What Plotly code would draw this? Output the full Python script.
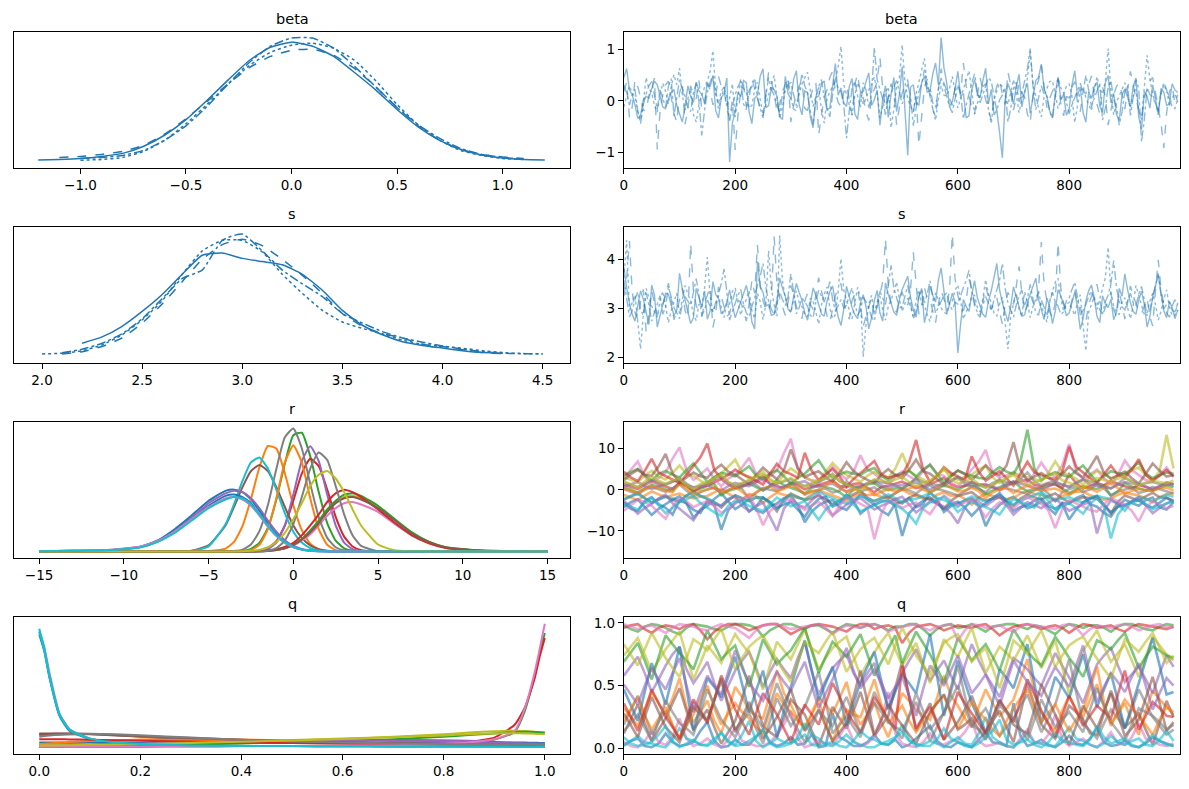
import plotly.graph_objects as go

# tab10 colour cycle used by the original figure
TAB10 = ['#1f77b4', '#ff7f0e', '#2ca02c', '#d62728', '#9467bd',
         '#8c564b', '#e377c2', '#7f7f7f', '#bcbd22', '#17becf']
DASHES = ['solid', 'dash', 'dot', 'dashdot']
FONT = 'DejaVu Sans'

# ---------------- beta ----------------
beta_grid = [-1.2, -1.1, -1.0, -0.9, -0.8, -0.7, -0.6, -0.5, -0.4, -0.3, -0.2, -0.1, 0.0,
             0.1, 0.2, 0.3, 0.4, 0.5, 0.6, 0.7, 0.8, 0.9, 1.0, 1.1, 1.2]
beta_kde = [
    [0.005, 0.01, 0.02, 0.04, 0.07, 0.14, 0.25, 0.40, 0.59, 0.79, 0.98, 1.11, 1.16,
     1.12, 1.02, 0.86, 0.69, 0.50, 0.33, 0.20, 0.11, 0.055, 0.025, 0.01, 0.005],
    [None, 0.03, 0.04, 0.06, 0.09, 0.15, 0.26, 0.41, 0.58, 0.75, 0.91, 1.02, 1.08,
     1.09, 1.03, 0.90, 0.72, 0.52, 0.34, 0.20, 0.11, 0.06, 0.035, 0.02, None],
    [None, None, 0.003, 0.01, 0.03, 0.09, 0.20, 0.36, 0.55, 0.75, 0.93, 1.06, 1.13,
     1.15, 1.10, 0.98, 0.78, 0.55, 0.35, 0.20, 0.10, 0.05, 0.02, 0.01, None],
    [None, None, 0.02, 0.03, 0.05, 0.10, 0.20, 0.34, 0.53, 0.75, 0.96, 1.12, 1.20,
     1.20, 1.10, 0.92, 0.72, 0.52, 0.35, 0.22, 0.12, 0.06, 0.03, 0.015, None],
]
# draws sampled every 5 iterations
beta_chains = [
    [0.45, 0.62, 0.21, 0.12, -0.08, -0.34, -0.28, 0.02, 0.09, 0.05, 0.24, 0.38, 0.31, 0.07, -0.12, -0.15, 0.04, 0.16, 0.22, -0.09,
     -0.26, -0.41, -0.11, 0.29, 0.08, -0.03, 0.36, 0.19, 0.13, -0.05, 0.35, 0.27, 0.48, -0.19, -0.33, 0.06, 0.14, 0.44, -1.18, -0.42,
     -0.22, 0.17, 0.08, 0.39, 0.35, -0.21, -0.44, 0.05, 0.11, 0.48, 0.62, -0.13, -0.09, 0.26, 0.21, 0.09, -0.31, -0.36, 0.47, 0.14,
     0.03, 0.42, 0.58, -0.08, -0.27, 0.19, 0.16, -0.31, -0.52, 0.07, 0.09, 0.33, 0.38, -0.17, -0.14, 0.24, 0.72, 0.11, 0.25, -0.04,
     -0.11, 0.28, 0.43, -0.25, -0.36, 0.15, 0.18, 0.37, 0.54, -0.09, 0.02, 0.21, -0.47, 0.04, 0.29, -0.32, 0.13, 0.45, -0.21, 0.12,
     0.66, -0.18, -1.05, 0.26, 0.31, -0.04, -0.08, 0.35, 0.48, 0.17, 0.19, 0.52, 0.73, 0.31, 1.22, 0.64, 0.35, -0.11, -0.02, 0.23,
     0.57, 0.09, 0.14, -0.33, -0.29, 0.21, 0.41, 0.13, 0.06, 0.39, 0.63, -0.06, 0.22, -0.27, -0.18, -0.62, -1.1, 0.02, 0.33, 0.18,
     -0.07, 0.28, 0.51, -0.12, 0.18, 0.34, -0.24, 0.06, 0.39, 0.45, 0.71, 0.21, 0.09, -0.19, -0.33, 0.14, 0.46, 0.03, 0.12, -0.28,
     -0.16, 0.31, 0.58, 0.09, 0.27, -0.23, -0.41, 0.17, 0.05, 0.26, 0.36, -0.11, -0.22, 0.35, 0.49, -0.04, 0.14, -0.26, -0.38, 0.12,
     0.23, 0.07, -0.12, 0.29, 0.44, -0.31, -0.55, 0.18, 0.09, -0.14, 0.31, 0.05, -0.27, 0.24, 0.17, -0.09, -0.06, 0.33, 0.21, 0.16],
    [0.18, 0.36, -0.32, -0.12, 0.41, 0.27, 0.07, -0.18, -0.19, 0.11, 0.26, 0.44, -0.94, -0.21, 0.12, 0.31, 0.38, 0.05, -0.24, -0.41,
     0.15, 0.34, -0.45, -0.16, 0.29, 0.12, 0.04, 0.39, -0.17, -0.06, 0.33, 0.21, -0.08, 0.09, 0.47, 0.28, 0.21, -0.13, -0.36, 0.02,
     -0.95, -0.28, 0.19, 0.31, -0.12, 0.06, 0.42, 0.24, 0.08, -0.17, -0.29, 0.13, 0.55, 0.37, 0.16, -0.22, -0.05, 0.18, 0.31, 0.45,
     -0.41, -0.09, 0.12, 0.29, 0.37, -0.14, -0.19, 0.08, 0.24, 0.36, -0.66, -0.23, 0.09, 0.21, 0.45, 0.57, 0.18, -0.03, -0.11, 0.16,
     0.29, 0.04, -0.27, 0.33, 0.51, 0.14, 0.06, -0.21, -0.38, 0.11, 0.22, 0.37, 0.84, 0.26, -0.14, 0.05, 0.33, 0.18, -0.46, -0.12,
     0.15, 0.32, 0.41, -0.07, -0.23, 0.11, -0.85, -0.31, 0.27, 0.42, 0.08, -0.16, -0.31, 0.22, 0.62, 0.35, 0.19, 0.07, -0.09, 0.26,
     0.36, 0.14, 0.73, 0.28, 0.11, -0.14, -0.25, 0.09, 0.44, 0.22, 0.03, -0.18, -0.37, 0.06, 0.28, 0.41, 0.12, -0.07, 0.55, 0.31,
     -0.18, 0.07, 0.33, 0.16, 0.07, -0.26, -0.42, 0.13, 0.25, 0.39, 0.68, 0.24, -0.13, 0.05, 0.19, 0.32, 0.41, -0.06, -0.29, 0.08,
     0.06, 0.27, 0.37, -0.04, -0.21, 0.18, 0.14, 0.29, 0.48, 0.11, -0.08, -0.25, 0.26, 0.09, -0.47, -0.16, 0.11, 0.28, 0.34, 0.13,
     -0.16, 0.22, 0.57, 0.31, 0.02, -0.19, -0.33, 0.07, 0.21, 0.38, 0.45, 0.14, -0.12, -0.43, -0.91, -0.24, 0.17, 0.29, -0.05, 0.12],
    [-0.12, 0.06, 0.29, 0.15, 0.08, -0.21, -0.37, -0.04, 0.45, 0.23, 0.16, -0.09, -0.22, 0.12, 0.34, 0.18, -0.06, 0.28, 0.51, 0.31,
     0.63, 0.12, -0.18, 0.04, 0.23, -0.27, -0.41, -0.05, 0.11, 0.26, 0.38, 0.57, 0.97, 0.21, -0.15, 0.09, 0.27, -0.12, 0.05, 0.33,
     -0.31, 0.07, 0.42, 0.24, 0.17, -0.14, -0.09, 0.22, 0.36, 0.02, -0.26, -0.08, 0.14, 0.31, 0.49, 0.08, -0.34, -0.11, 0.21, 0.39,
     0.07, -0.16, -0.19, 0.14, 0.32, 0.44, 0.55, 0.19, -0.11, 0.09, 0.26, -0.18, -0.43, 0.03, 0.18, 0.27, 0.39, 0.66, 1.05, 0.32,
     0.13, -0.06, -0.28, 0.12, 0.35, 0.19, -0.07, 0.04, 0.22, 0.31, 0.46, 0.17, -0.33, -0.12, 0.16, 0.27, -0.52, -0.17, 0.28, 0.45,
     1.08, 0.36, 0.04, -0.11, -0.21, 0.13, 0.37, 0.58, 0.82, 0.29, 0.15, -0.16, -0.38, 0.03, 0.29, 0.11, 0.09, 0.24, 0.47, 0.18,
     -0.14, 0.05, 0.23, 0.38, 0.58, 0.21, -0.26, -0.05, 0.11, 0.25, 0.36, -0.17, -0.44, 0.02, 0.19, 0.34, 0.27, 0.09, -0.07, 0.16,
     0.41, 0.12, -0.23, 0.06, 0.15, 0.44, 0.96, 0.31, 0.05, -0.14, -0.31, 0.08, 0.24, 0.37, 0.39, 0.12, -0.15, 0.03, 0.12, 0.28,
     0.33, 0.08, -0.42, -0.09, 0.18, 0.26, 0.06, -0.07, -0.19, 0.21, 0.47, 0.24, 0.13, 0.38, 1.01, 0.16, -0.27, -0.03, 0.08, 0.22,
     0.35, 0.12, -0.11, 0.09, 0.22, -0.18, -0.36, 0.27, 0.88, 0.41, 0.14, -0.05, -0.23, 0.13, 0.31, 0.19, 0.07, -0.12, -0.15, 0.04],
    [0.31, 0.15, -0.08, 0.11, 0.22, -0.19, -0.44, -0.07, 0.13, 0.29, 0.37, 0.08, -0.16, 0.21, 0.05, -0.12, 0.28, 0.43, -0.29, 0.03,
     0.41, 0.24, 0.09, -0.13, -0.21, 0.16, 0.34, -0.02, -0.67, -0.18, 0.17, 0.36, 0.49, 0.12, -0.05, 0.19, 0.26, 0.08, -0.39, -0.11,
     0.12, 0.27, 0.38, -0.06, -0.17, 0.21, 0.27, 0.44, 0.04, -0.14, -0.33, 0.09, 0.45, 0.22, 0.11, -0.08, -0.24, 0.13, 0.19, 0.31,
     0.36, 0.12, -0.09, 0.18, 0.53, 0.29, 0.15, -0.21, -0.46, 0.06, 0.28, 0.41, 0.07, -0.15, -0.31, 0.11, 0.42, 0.24, 0.18, -0.07,
     -0.72, -0.19, 0.24, 0.38, 0.09, -0.12, 0.35, 0.21, -0.13, 0.16, 1.03, 0.41, 0.21, 0.04, -0.27, 0.08, 0.14, 0.27, 0.39, 0.17,
     -0.06, 0.14, 0.32, 0.09, -0.48, -0.15, 0.17, 0.33, 0.6, 0.24, 0.26, -0.04, -0.12, 0.22, 0.44, 0.29, 0.08, -0.11, -0.23, 0.06,
     0.31, 0.12, -0.35, -0.08, 0.16, 0.34, 0.52, 0.18, -0.04, 0.13, 0.27, 0.45, 0.38, 0.07, -0.19, 0.02, 0.11, 0.26, -0.41, -0.15,
     0.24, 0.36, -0.02, 0.15, 0.37, 0.62, 1.01, 0.28, -0.17, 0.04, 0.29, 0.12, 0.09, -0.22, -0.33, 0.06, 0.43, 0.25, 0.15, -0.03,
     -0.25, -0.08, 0.06, 0.22, 0.34, 0.17, 0.49, 0.21, -0.12, 0.05, 0.21, 0.33, -0.37, -0.14, 0.27, 0.39, 0.03, -0.11, -0.47, -0.21,
     0.18, 0.29, -0.28, 0.04, 0.41, 0.23, -0.79, -0.36, 0.26, 0.12, 0.08, -0.06, -0.18, 0.15, 0.35, 0.22, -0.09, 0.05, 0.14, -0.02],
]

# ---------------- s ----------------
s_grid = [2.0, 2.1, 2.2, 2.3, 2.4, 2.5, 2.6, 2.7, 2.8, 2.9, 3.0, 3.1, 3.2,
          3.3, 3.4, 3.5, 3.6, 3.7, 3.8, 3.9, 4.0, 4.1, 4.2, 4.3, 4.4, 4.5]
s_kde = [
    [None, None, 0.10, 0.16, 0.26, 0.40, 0.56, 0.75, 0.93, 0.95, 0.90, 0.87, 0.84,
     0.75, 0.60, 0.41, 0.27, 0.18, 0.115, 0.08, 0.055, 0.03, 0.012, 0.006, None, None],
    [None, 0.0, 0.02, 0.07, 0.15, 0.29, 0.47, 0.68, 0.89, 1.03, 1.08, 1.02, 0.89,
     0.74, 0.57, 0.38, 0.26, 0.19, 0.15, 0.09, 0.07, 0.04, 0.012, 0.003, None, None],
    [0.0, 0.006, 0.03, 0.085, 0.18, 0.32, 0.50, 0.75, 0.97, 1.07, 1.07, 0.96, 0.75,
     0.57, 0.41, 0.30, 0.24, 0.19, 0.13, 0.09, 0.07, 0.053, 0.03, 0.012, 0.003, 0.0],
    [None, 0.01, 0.044, 0.10, 0.19, 0.33, 0.52, 0.71, 0.79, 1.07, 1.13, 0.97, 0.79,
     0.66, 0.54, 0.38, 0.29, 0.21, 0.15, 0.11, 0.075, 0.044, 0.022, 0.006, 0.002, 0.0],
]
s_chains = [
    [3.85, 3.42, 3.12, 2.88, 2.74, 3.05, 3.36, 3.19, 2.91, 2.67, 3.48, 3.27, 2.62, 2.85, 3.05, 3.31, 3.29, 3.08, 2.85, 2.96,
     3.72, 3.41, 3.18, 2.93, 2.69, 2.81, 3.41, 3.22, 3.02, 3.36, 2.78, 2.95, 3.55, 3.28, 3.21, 2.89, 2.95, 3.14, 3.38, 3.07,
     2.81, 2.97, 3.14, 3.33, 3.47, 3.21, 2.72, 2.58, 3.96, 3.44, 3.33, 3.05, 3.08, 2.86, 2.88, 3.17, 3.62, 3.41, 3.25, 2.99,
     2.93, 3.24, 3.51, 3.32, 3.17, 2.91, 2.76, 3.08, 3.42, 3.27, 3.06, 2.89, 2.84, 3.15, 3.34, 3.46, 3.11, 2.83, 2.65, 2.98,
     3.45, 3.21, 3.02, 2.87, 2.79, 3.12, 3.28, 3.04, 2.58, 2.81, 3.16, 3.37, 2.91, 2.74, 3.52, 3.29, 3.09, 2.93, 2.86, 3.18,
     3.39, 3.54, 3.66, 3.23, 2.97, 2.82, 3.24, 3.41, 2.71, 2.96, 3.46, 3.27, 3.13, 3.58, 3.83, 3.36, 2.89, 3.07, 3.31, 3.12,
     2.09, 2.68, 3.18, 3.04, 2.94, 3.27, 3.57, 3.22, 3.07, 2.88, 2.82, 3.15, 3.36, 3.61, 3.92, 3.38, 3.11, 2.92, 2.73, 3.05,
     3.44, 3.23, 3.05, 2.84, 2.87, 3.12, 3.29, 3.47, 3.62, 3.18, 2.96, 2.77, 3.21, 3.03, 2.69, 2.94, 3.38, 3.26, 3.08, 2.85,
     2.91, 3.14, 3.33, 3.02, 2.57, 2.79, 3.15, 3.36, 3.48, 3.22, 2.84, 2.71, 3.26, 3.09, 3.02, 3.19, 2.77, 2.92, 3.41, 3.25,
     3.71, 3.38, 3.12, 2.94, 2.88, 3.17, 3.35, 3.08, 2.62, 2.83, 3.24, 3.46, 3.68, 3.32, 2.95, 2.81, 3.14, 3.02, 2.79, 2.97],
    [3.25, 3.61, 4.38, 3.34, 2.92, 2.78, 3.14, 3.39, 2.51, 2.87, 3.37, 3.12, 2.86, 2.97, 3.08, 3.26, 3.52, 3.18, 2.77, 2.93,
     3.19, 3.41, 2.95, 2.81, 4.33, 3.37, 3.06, 2.91, 2.83, 3.12, 3.27, 3.44, 2.61, 2.89, 3.44, 3.23, 3.01, 2.84, 2.89, 3.16,
     3.35, 3.18, 3.12, 2.96, 2.74, 3.09, 3.58, 3.31, 4.3, 3.46, 3.16, 2.98, 2.94, 3.22, 4.47, 3.52, 3.21, 3.04, 2.86, 3.13,
     3.47, 3.29, 3.04, 2.88, 2.79, 3.15, 3.31, 3.08, 2.98, 3.27, 3.63, 3.36, 3.09, 2.85, 2.72, 3.02, 3.26, 3.43, 3.51, 3.14,
     2.92, 2.78, 3.17, 3.29, 3.39, 3.06, 2.63, 2.84, 3.05, 3.21, 2.85, 3.03, 3.28, 3.54, 4.42, 3.47, 3.11, 2.96, 2.93, 3.18,
     3.34, 3.12, 3.07, 3.39, 4.15, 3.43, 2.88, 3.05, 3.42, 3.21, 3.19, 2.94, 2.71, 3.08, 3.36, 3.19, 3.04, 3.38, 4.52, 3.61,
     3.27, 3.06, 2.95, 3.17, 3.61, 3.38, 3.13, 2.89, 2.82, 3.16, 3.45, 3.24, 2.98, 3.11, 3.22, 2.94, 2.67, 3.08, 3.33, 3.19,
     3.08, 3.45, 3.86, 3.31, 2.91, 3.05, 3.29, 3.12, 3.03, 3.39, 4.36, 3.48, 3.16, 2.93, 2.81, 3.14, 4.35, 3.42, 3.11, 2.96,
     2.94, 3.17, 3.38, 3.12, 3.02, 2.79, 2.73, 3.08, 3.25, 3.41, 3.49, 3.16, 2.86, 3.02, 3.14, 3.33, 2.97, 2.84, 3.32, 3.09,
     2.78, 3.12, 3.46, 3.27, 3.09, 2.93, 2.89, 3.04, 3.21, 2.83, 2.64, 3.36, 3.99, 3.41, 3.07, 2.91, 2.82, 3.05, 3.18, 2.94],
    [3.62, 4.4, 2.96, 3.14, 3.28, 2.73, 2.17, 2.88, 3.41, 3.22, 3.05, 2.93, 2.82, 3.17, 3.35, 3.04, 2.71, 2.95, 3.12, 3.31,
     2.89, 3.16, 3.47, 3.29, 3.16, 2.87, 2.75, 3.09, 3.03, 3.42, 4.05, 3.24, 2.93, 3.08, 3.26, 3.02, 2.81, 3.11, 3.09, 3.35,
     3.42, 3.13, 2.86, 3.05, 3.18, 3.36, 2.95, 2.79, 3.31, 3.14, 2.77, 3.06, 4.18, 3.41, 3.07, 2.84, 4.49, 3.56, 3.22, 3.01,
     2.91, 3.18, 3.36, 3.12, 3.04, 2.88, 2.83, 3.21, 3.15, 2.92, 2.68, 3.07, 3.29, 3.44, 3.01, 2.79, 2.87, 3.35, 4.02, 3.38,
     3.14, 2.96, 2.79, 3.11, 3.43, 3.22, 2.01, 2.66, 3.08, 3.27, 2.92, 3.13, 3.25, 2.98, 2.76, 3.04, 3.17, 3.32, 3.54, 3.19,
     2.94, 3.11, 3.21, 3.02, 2.85, 3.16, 3.38, 3.09, 3.06, 2.87, 2.73, 3.04, 3.32, 3.18, 3.01, 2.92, 2.89, 3.14, 3.15, 3.37,
     3.48, 3.16, 2.78, 2.93, 3.04, 3.26, 3.27, 3.02, 2.93, 3.21, 3.59, 3.28, 3.12, 2.91, 2.84, 3.09, 3.23, 2.71, 2.17, 2.86,
     3.11, 3.32, 2.97, 2.83, 3.34, 3.12, 2.81, 3.04, 3.19, 3.36, 3.05, 2.88, 2.72, 3.15, 3.37, 3.54, 3.62, 3.21, 2.95, 3.08,
     3.13, 2.99, 2.86, 3.12, 3.28, 2.64, 2.13, 2.92, 3.09, 3.24, 2.98, 3.17, 3.41, 3.63, 4.25, 3.32, 3.04, 2.91, 2.88, 3.14,
     3.22, 3.01, 2.79, 3.06, 3.47, 3.26, 3.08, 2.87, 2.92, 3.15, 3.31, 3.08, 2.76, 2.94, 3.19, 3.38, 3.03, 2.85, 2.86, 3.12],
    [3.58, 3.21, 2.83, 2.95, 3.19, 3.34, 2.97, 2.86, 3.32, 3.07, 2.74, 2.92, 3.11, 3.26, 2.88, 3.03, 3.45, 3.22, 3.02, 2.91,
     2.79, 3.08, 3.24, 3.15, 3.06, 3.33, 3.61, 3.28, 2.85, 2.97, 3.17, 3.04, 2.93, 3.12, 3.29, 3.51, 3.81, 3.34, 2.76, 2.94,
     3.12, 3.27, 3.39, 3.08, 2.91, 2.83, 3.04, 3.21, 3.48, 3.66, 3.92, 3.44, 3.15, 2.98, 2.87, 3.09, 3.33, 3.18, 3.06, 3.24,
     3.71, 3.34, 2.89, 3.02, 3.21, 3.13, 3.05, 2.86, 2.81, 3.14, 3.37, 3.25, 3.13, 3.32, 3.55, 3.19, 2.94, 3.06, 3.18, 3.01,
     3.06, 3.27, 3.42, 3.11, 2.86, 2.97, 3.23, 3.14, 3.01, 2.82, 2.74, 3.09, 3.35, 3.21, 3.08, 3.46, 3.88, 3.42, 3.19, 3.02,
     3.03, 3.25, 3.47, 3.13, 2.78, 2.96, 3.25, 3.38, 3.11, 3.29, 3.57, 3.22, 2.9, 3.03, 3.15, 3.26, 3.32, 3.08, 2.97, 3.13,
     3.09, 3.28, 3.43, 3.57, 3.78, 3.35, 3.06, 2.92, 2.88, 3.07, 3.24, 3.11, 2.95, 3.18, 3.36, 3.58, 3.92, 3.41, 3.11, 2.96,
     2.82, 3.07, 3.26, 3.38, 3.07, 3.21, 3.49, 3.19, 2.91, 2.86, 3.17, 3.02, 2.84, 3.13, 3.33, 3.14, 3.05, 2.88, 2.93, 3.16,
     3.21, 3.39, 3.54, 3.23, 2.87, 2.96, 3.08, 3.24, 3.36, 3.17, 3.12, 2.97, 2.89, 3.14, 3.27, 3.51, 3.98, 3.42, 3.14, 3.03,
     2.97, 3.16, 3.31, 3.12, 3.06, 3.29, 3.45, 3.18, 2.85, 2.97, 3.21, 3.44, 3.72, 3.26, 2.99, 3.08, 3.13, 2.96, 2.93, 3.1],
]

# ---------------- r (20 components) ----------------
r_grid = [-15, -13, -11, -9, -8, -7, -6, -5, -4, -3.5, -3, -2.5, -2, -1.5, -1, -0.5, 0,
          0.5, 1, 1.5, 2, 2.5, 3, 3.5, 4, 5, 6, 7, 8, 9, 11, 13, 15]
r_kde = [
    [0.002, 0.005, 0.01, 0.04, 0.09, 0.18, 0.29, 0.41, 0.49, 0.5, 0.48, 0.42, 0.33, 0.23, 0.14,
     0.08, 0.04, 0.017, 0.007, 0.003, 0.001] + [0] * 12,
    [0] * 5 + [0.001, 0.002, 0.004, 0.023, 0.077, 0.205, 0.424, 0.681, 0.853, 0.832, 0.632,
               0.374, 0.172, 0.062, 0.017, 0.004, 0.001] + [0] * 11,
    [0] * 10 + [0.004, 0.02, 0.07, 0.19, 0.42, 0.71, 0.94, 0.96, 0.77, 0.48, 0.23, 0.087,
                0.025, 0.006, 0.001] + [0] * 8,
    [0] * 12 + [0.006, 0.026, 0.083, 0.21, 0.41, 0.63, 0.75, 0.69, 0.5, 0.28, 0.12, 0.04,
                0.011, 0.001] + [0] * 7,
    [0] * 12 + [0.003, 0.018, 0.072, 0.21, 0.46, 0.73, 0.85, 0.73, 0.46, 0.21, 0.072, 0.018,
                0.003] + [0] * 8,
    [0] * 5 + [0.001, 0.006, 0.049, 0.21, 0.36, 0.52, 0.65, 0.70, 0.65, 0.52, 0.36, 0.21,
               0.11, 0.049, 0.019, 0.006, 0.002] + [0] * 11,
    [0] * 11 + [0.001, 0.002, 0.004, 0.011, 0.024, 0.048, 0.088, 0.14, 0.21, 0.29, 0.35, 0.39,
                0.4, 0.38, 0.32, 0.22, 0.13, 0.068, 0.03, 0.006, 0.002, 0.001],
    [0] * 9 + [0.003, 0.015, 0.056, 0.164, 0.375, 0.667, 0.923, 0.995, 0.835, 0.546, 0.278,
               0.11, 0.034, 0.008, 0.002] + [0] * 9,
    [0] * 11 + [0.001, 0.002, 0.005, 0.012, 0.027, 0.054, 0.1, 0.16, 0.24, 0.32, 0.4, 0.44,
                0.45, 0.43, 0.36, 0.25, 0.15, 0.077, 0.033, 0.007, 0.003, 0.001],
    [0] * 6 + [0.004, 0.041, 0.22, 0.38, 0.57, 0.72, 0.76, 0.67, 0.5, 0.31, 0.16, 0.072,
               0.027, 0.008, 0.002] + [0] * 12,
    [0.002, 0.005, 0.009, 0.037, 0.083, 0.16, 0.27, 0.37, 0.45, 0.46, 0.44, 0.39, 0.3, 0.21,
     0.13, 0.071, 0.035, 0.016, 0.006, 0.002, 0.001] + [0] * 12,
    [0] * 10 + [0.002, 0.011, 0.054, 0.18, 0.43, 0.72, 0.86, 0.72, 0.43, 0.18, 0.054, 0.011,
                0.002] + [0] * 10,
    [0] * 11 + [0.001, 0.002, 0.005, 0.013, 0.028, 0.056, 0.1, 0.17, 0.25, 0.34, 0.41, 0.46,
                0.47, 0.45, 0.37, 0.26, 0.155, 0.08, 0.035, 0.007, 0.003, 0.001],
    [0] * 11 + [0.001, 0.003, 0.007, 0.017, 0.037, 0.07, 0.13, 0.21, 0.3, 0.4, 0.47, 0.5,
                0.48, 0.44, 0.34, 0.23, 0.13, 0.066, 0.028, 0.006, 0.002, 0.001],
    [0.002, 0.005, 0.01, 0.035, 0.08, 0.16, 0.27, 0.39, 0.47, 0.49, 0.48, 0.43, 0.35, 0.25,
     0.16, 0.09, 0.045, 0.02, 0.008, 0.003, 0.001] + [0] * 12,
    [0] * 11 + [0.001, 0.002, 0.004, 0.012, 0.026, 0.053, 0.097, 0.156, 0.23, 0.32, 0.39, 0.43,
                0.44, 0.42, 0.35, 0.25, 0.145, 0.075, 0.033, 0.007, 0.003, 0.001],
    [0.003, 0.006, 0.011, 0.04, 0.085, 0.16, 0.26, 0.36, 0.43, 0.44, 0.42, 0.37, 0.29, 0.2,
     0.125, 0.07, 0.034, 0.015, 0.006, 0.002, 0.001] + [0] * 12,
    [0] * 13 + [0.006, 0.027, 0.088, 0.22, 0.44, 0.67, 0.8, 0.74, 0.53, 0.3, 0.13, 0.045,
                0.002] + [0] * 7,
    [0] * 10 + [0.001, 0.005, 0.013, 0.034, 0.076, 0.15, 0.26, 0.39, 0.53, 0.62, 0.65, 0.59,
                0.48, 0.34, 0.21, 0.056, 0.009, 0.002] + [0] * 5,
    [0.002, 0.004, 0.009, 0.034, 0.077, 0.15, 0.25, 0.35, 0.42, 0.44, 0.43, 0.38, 0.3, 0.21,
     0.13, 0.075, 0.037, 0.016, 0.006, 0.002, 0.001] + [0] * 12,
]
# r / q traces: draws sampled every 12.5 iterations
r_chains = [
    [-3.1, -4.6, -5.2, -2.7, -1.8, -3.5, -4.4, -6.0, -2.6, -3.3, -6.8, -4.9, -3.9, -2.2, -0.9, -2.8, -4.7, -3.6, -2.2, -5.0,
     -5.6, -4.1, -3.3, -2.0, -1.4, -3.7, -7.9, -5.3, -3.8, -2.9, -2.5, -4.2, -4.9, -3.0, -1.1, -2.4, -3.6, -5.1, -6.1, -3.4,
     -2.9, -1.9, -4.2, -3.5, -0.6, -2.3, -5.4, -4.0, -3.2, -2.6, -2.1, -3.8, -8.8, -5.5, -3.7, -2.4, -1.7, -3.0, -4.5, -3.9,
     -2.8, -4.4, -5.9, -3.1, -3.4, -2.0, -1.3, -3.5, -4.1, -5.6, -6.5, -4.0, -2.4, -3.2, -3.9, -2.5, -1.9, -4.3, -4.8, -3.0],
    [-1.2, -1.9, -2.5, -1.4, -0.4, -1.1, -1.8, -1.3, -0.9, -1.6, -2.1, -1.7, -1.5, -0.6, 0.3, -0.9, -1.9, -2.4, -1.0, -1.4,
     -3.2, -1.8, -0.7, -1.2, -1.6, -2.0, -2.3, -1.1, -0.2, -0.8, -1.4, -2.0, -2.8, -1.6, -0.8, -1.3, -1.1, -1.7, -1.9, -1.0,
     0.1, -0.9, -1.5, -2.1, -2.4, -1.2, -0.6, -1.4, -1.3, -2.2, -3.6, -1.9, -0.9, -1.5, -1.7, -2.3, -2.0, -0.9, -0.3, -1.0,
     -1.2, -1.8, -2.6, -1.5, -1.0, -0.4, -0.5, -1.3, -1.8, -2.4, -2.2, -1.2, -0.7, -1.1, -1.4, -2.1, -3.0, -1.7, -1.1, -0.8],
    [0.6, 0.1, -0.7, 0.4, 1.2, 0.8, 0.1, -0.3, 1.8, 0.9, -0.4, 0.3, 0.9, 1.4, -1.3, -0.2, 0.3, 0.7, 1.5, 0.6,
     -0.2, 0.9, 2.4, 1.1, 0.5, -0.1, -0.9, 0.4, 1.1, 0.7, 0.2, -0.6, -1.8, 0.1, 0.8, 1.3, 1.6, 0.5, -0.1, 0.3,
     0.4, 1.2, 2.9, 0.8, -0.6, 0.2, 1.0, 0.6, 0.0, 0.9, 1.3, 0.4, -1.1, -0.2, 0.7, 1.5, 2.0, 0.6, -0.3, 0.2,
     0.5, 1.0, 1.4, 0.3, -0.8, 0.1, 0.9, 0.4, 0.2, 1.1, -1.5, -0.4, 1.7, 0.8, 0.4, -0.1, -0.2, 0.5, 1.1, 0.6],
    [1.3, 0.7, 0.2, 1.2, 2.1, 1.4, 0.8, 0.2, 1.7, 1.0, -0.3, 0.6, 1.1, 1.9, 2.6, 1.3, 0.5, 1.0, 1.5, 2.2,
     3.4, 1.5, 0.9, 0.4, 1.8, 1.1, 0.1, 0.8, 1.2, 1.7, 2.3, 0.9, 0.6, 1.4, 1.6, 0.5, -0.6, 0.7, 1.0, 1.5,
     2.0, 1.2, 0.4, 0.9, 1.4, 2.1, 2.9, 1.3, 0.7, 1.0, 1.9, 1.3, 1.1, 0.6, -0.1, 0.9, 1.7, 2.0, 2.5, 1.2,
     0.8, 1.5, 1.3, 0.4, 3.8, 1.6, 0.3, 0.9, 1.6, 1.1, 2.2, 1.4, 0.9, 0.3, 1.2, 0.7, 0.0, 1.0, 1.8, 1.3],
    [0.8, 1.4, 1.9, 0.9, 0.2, 0.8, 1.4, 2.0, 2.4, 1.2, 0.6, 0.9, 1.1, 0.3, -0.2, 0.9, 1.7, 1.2, 0.9, 1.8,
     2.8, 1.4, 0.4, 0.8, 1.3, 1.7, 2.1, 1.0, 0.7, 1.3, 1.5, 0.4, -0.5, 0.6, 1.0, 1.6, 2.3, 1.1, 0.5, 0.9,
     1.2, 1.5, 1.8, 0.8, 0.1, 0.9, 1.6, 2.2, 3.1, 1.4, 0.8, 1.2, 1.4, 0.7, 0.3, 1.1, 2.0, 1.5, 1.1, 0.6,
     -0.1, 0.8, 1.7, 1.2, 0.6, 1.5, 2.5, 1.3, 1.0, 0.6, 0.4, 1.2, 1.9, 1.6, 1.3, 0.8, 0.2, 0.9, 1.5, 1.1],
    [-2.4, -1.6, -0.8, -2.0, -3.1, -2.3, -1.6, -2.5, -2.9, -1.4, -0.4, -1.5, -2.2, -3.0, -4.3, -2.6, -1.3, -2.0, -2.7, -1.8,
     -1.9, -3.2, -5.2, -2.4, -0.9, -1.7, -2.5, -2.1, -1.4, -2.3, -3.6, -2.5, -2.1, -1.1, -0.2, -1.9, -2.8, -2.2, -1.7, -2.6,
     -3.3, -2.0, -1.1, -1.8, -2.3, -3.0, -4.6, -2.7, -1.5, -1.0, -0.6, -1.9, -2.6, -2.2, -1.9, -2.8, -3.9, -2.1, -1.2, -1.8,
     -2.4, -1.5, -0.9, -2.1, -3.0, -2.5, -1.8, -2.0, -2.2, -3.7, -5.8, -2.9, -1.4, -2.0, -2.7, -1.6, -0.7, -1.8, -2.0, -2.6],
    [2.8, 4.9, 6.9, 3.2, 1.5, 2.9, 4.1, 7.6, 10.3, 4.8, 2.4, 3.7, 5.2, 2.6, 0.9, 2.7, 3.6, 5.5, 7.8, 3.9,
     2.1, 3.3, 4.7, 8.9, 12.4, 5.1, 3.0, 2.2, 1.7, 3.4, 5.6, 3.8, 2.6, 4.4, 8.4, 5.0, 3.9, 2.5, 1.2, 3.1,
     4.5, 3.3, 2.3, 4.6, 6.2, 3.9, 3.4, 1.8, 0.6, 2.7, 5.0, 6.8, 9.7, 4.2, 2.9, 3.5, 4.3, 2.6, 1.8, 3.9,
     6.6, 4.1, 3.2, 5.9, 11.1, 4.6, 2.5, 3.7, 4.9, 2.8, 1.4, 3.6, 7.1, 4.8, 3.7, 2.4, 2.0, 3.8, 5.4, 3.1],
    [0.2, -0.5, -1.1, 0.0, 0.7, 0.1, -0.5, 0.4, 1.3, -0.2, -1.6, -0.6, 0.1, 0.5, -0.8, -0.1, 0.9, 0.2, -2.3, -0.7,
     0.4, 0.0, -0.3, 0.6, 1.6, 0.3, -1.2, -0.4, 0.0, 0.3, -0.7, -0.2, 2.1, 0.5, -0.4, 0.1, 0.6, -0.5, -1.9, -0.8,
     0.3, -0.2, -0.9, 0.4, 1.1, 0.2, -0.2, -0.8, -1.4, -0.3, 0.8, 0.2, -0.6, 0.9, 2.6, 0.4, -0.1, -0.6, -1.0, -0.2,
     0.5, -0.9, -2.8, -0.6, 0.2, 0.7, -0.5, 0.1, 1.4, 0.3, -1.3, -0.4, 0.1, 0.5, -0.8, -0.3, 0.7, 0.2, -0.3, -0.9],
    [3.1, 2.4, 1.8, 3.5, 4.6, 3.2, 2.5, 4.1, 5.9, 3.8, 3.4, 2.2, 1.3, 2.9, 4.0, 5.6, 7.3, 4.1, 2.7, 3.3,
     3.8, 2.6, 1.6, 3.7, 5.2, 4.0, 3.0, 2.3, 2.2, 4.4, 6.5, 4.8, 3.6, 2.8, 1.9, 3.4, 4.4, 3.2, 2.9, 5.1,
     8.9, 4.7, 3.3, 2.5, 1.5, 3.6, 4.9, 3.8, 2.4, 3.1, 3.7, 4.9, 5.8, 3.0, 1.7, 2.8, 4.2, 3.5, 3.1, 2.6,
     2.0, 4.1, 6.9, 4.3, 3.5, 2.7, 1.2, 3.3, 4.6, 3.9, 2.8, 3.4, 3.9, 4.8, 5.4, 3.6, 2.3, 4.5, 13.3, 5.2],
    [-2.3, -1.5, -1.0, -2.2, -3.2, -2.4, -1.7, -2.1, -2.6, -1.4, -0.6, -1.5, -2.1, -3.0, -3.9, -2.2, -1.4, -2.1, -2.8, -1.9,
     -1.9, -3.3, -4.7, -2.6, -1.2, -1.9, -2.4, -1.6, -0.3, -1.4, -2.0, -2.8, -3.4, -2.3, -1.5, -2.2, -2.7, -1.9, -1.1, -2.0,
     -3.0, -2.4, -2.2, -1.5, -0.8, -1.9, -2.5, -3.3, -4.2, -2.5, -1.6, -2.3, -2.9, -2.1, -1.3, -2.4, -3.6, -2.5, -2.0, -1.3,
     -0.5, -1.8, -2.6, -2.1, -1.8, -2.6, -3.1, -2.0, -1.4, -1.9, -2.3, -3.5, -5.1, -2.8, -1.7, -2.2, -2.8, -2.0, -1.2, -1.7],
    [-4.2, -3.0, -2.3, -4.1, -6.1, -4.6, -3.5, -2.4, -1.6, -3.2, -4.9, -5.6, -2.8, -3.7, -9.7, -5.0, -3.1, -2.5, -5.3, -4.0,
     -1.9, -2.9, -4.4, -3.6, -3.0, -4.8, -6.6, -3.9, -2.2, -1.7, -4.1, -3.3, -1.2, -2.6, -5.8, -4.4, -3.6, -2.8, -2.7, -3.9,
     -11.2, -5.7, -3.9, -2.7, -1.8, -3.4, -4.7, -3.5, -2.9, -4.3, -6.3, -4.5, -3.3, -2.1, -0.8, -2.9, -5.1, -4.2, -3.8, -2.6,
     -2.1, -3.9, -4.6, -3.4, -7.2, -4.8, -3.0, -2.2, -1.5, -3.6, -5.5, -4.1, -3.7, -2.9, -2.4, -3.8, -4.3, -3.1, -1.9, -3.0],
    [0.3, -0.3, -0.8, 0.2, 0.9, 0.4, -0.2, -0.6, 1.4, 0.5, -1.1, -0.4, 0.1, 0.6, -0.6, -0.1, 0.7, -0.5, -1.7, -0.6,
     0.4, 0.9, -0.3, 0.2, 1.1, 0.3, -0.9, -0.4, 0.0, 1.0, 2.2, 0.6, -0.5, -0.1, 0.6, 0.2, -1.3, -0.5, 0.2, -0.4,
     -0.1, 0.3, 0.8, 0.1, -0.7, 0.4, 1.6, 0.5, -0.4, -0.2, 0.5, -0.3, -2.0, -0.6, 0.1, 0.4, -0.8, 0.3, 1.0, 0.2,
     -0.2, 0.1, 0.3, -0.4, -1.2, -0.2, 0.7, 0.3, -0.5, 0.5, 1.8, 0.4, -0.9, -0.2, 0.2, -0.1, -0.3, 0.4, 0.6, -0.2],
    [3.5, 4.3, 5.1, 3.6, 2.2, 3.9, 4.6, 3.7, 3.0, 4.8, 6.4, 4.2, 1.9, 3.1, 4.1, 3.8, 3.3, 4.5, 5.7, 3.4,
     2.6, 4.0, 4.8, 3.3, 1.4, 2.9, 3.9, 5.6, 7.2, 4.6, 2.9, 3.7, 4.4, 3.9, 3.6, 4.7, 5.3, 3.5, 2.3, 3.6,
     4.0, 4.6, 3.2, 4.9, 6.0, 3.8, 1.8, 3.4, 4.7, 3.9, 3.4, 2.9, 2.7, 4.3, 5.5, 4.4, 3.8, 6.9, 14.6, 5.1,
     2.4, 3.5, 4.3, 3.6, 3.1, 4.7, 5.9, 3.8, 2.0, 3.3, 4.5, 4.1, 3.7, 5.2, 6.7, 4.0, 2.8, 3.6, 4.2, 3.9],
    [4.4, 3.0, 2.1, 4.6, 7.5, 4.2, 3.3, 2.5, 1.6, 3.7, 5.8, 7.9, 11.2, 4.8, 2.7, 3.6, 4.9, 3.8, 3.1, 2.2,
     1.3, 3.9, 6.3, 4.5, 3.8, 2.9, 9.0, 4.6, 2.4, 3.7, 5.1, 3.2, 0.8, 2.6, 4.0, 5.4, 7.0, 3.8, 2.9, 3.4,
     3.6, 6.7, 12.1, 5.0, 1.9, 3.3, 5.5, 4.1, 3.2, 2.4, 8.1, 4.4, 2.2, 3.5, 4.6, 2.8, 1.0, 3.9, 6.8, 4.2,
     3.5, 2.9, 2.6, 4.3, 10.5, 5.6, 4.2, 2.8, 1.7, 3.8, 5.9, 3.6, 3.0, 4.9, 7.4, 3.7, 2.3, 3.4, 4.8, 3.3],
    [-2.7, -4.1, -5.8, -4.4, -3.4, -2.1, -1.2, -3.3, -4.6, -6.0, -7.4, -4.8, -2.9, -3.5, -3.8, -2.4, -1.6, -3.9, -5.2, -4.0,
     -3.1, -6.5, -9.9, -4.6, -2.5, -3.7, -4.3, -2.6, -0.9, -3.4, -6.2, -4.9, -3.6, -2.8, -2.0, -3.4, -4.8, -3.9, -3.2, -2.3,
     -1.7, -3.6, -5.5, -4.2, -2.8, -3.3, -4.1, -5.7, -8.1, -4.4, -2.3, -3.0, -3.9, -2.7, -1.4, -3.8, -6.0, -4.5, -3.0, -3.7,
     -4.5, -3.2, -2.2, -3.6, -5.1, -4.3, -3.5, -2.9, -10.6, -5.0, -2.6, -3.3, -4.0, -2.8, -1.8, -3.7, -5.7, -4.4, -3.3, -2.6],
    [2.3, 3.8, 4.9, 3.6, 3.4, 5.7, 8.7, 4.0, 1.8, 2.9, 4.2, 3.3, 2.9, 4.8, 6.1, 4.4, 3.7, 2.5, 1.4, 3.5,
     5.4, 3.9, 2.6, 4.7, 9.8, 5.2, 3.1, 3.9, 4.5, 3.0, 2.0, 4.1, 6.7, 4.6, 3.3, 2.4, 1.6, 3.7, 5.0, 3.6,
     2.8, 4.9, 7.3, 4.5, 3.9, 2.6, 1.2, 3.3, 4.7, 3.8, 2.5, 4.0, 6.0, 4.2, 3.6, 5.9, 11.6, 4.8, 2.2, 3.2,
     4.1, 2.9, 1.9, 3.8, 5.7, 4.0, 3.0, 5.5, 8.2, 4.1, 2.7, 3.5, 4.4, 2.8, 1.5, 3.9, 6.4, 4.6, 3.2, 3.6],
    [-5.1, -3.7, -2.4, -3.0, -3.9, -5.5, -7.0, -4.1, -1.9, -2.8, -4.2, -3.4, -2.7, -4.0, -5.6, -4.6, -3.3, -2.2, -1.3, -4.4,
     -8.6, -5.2, -3.7, -2.9, -2.1, -3.6, -4.9, -3.8, -2.9, -4.5, -6.4, -3.9, -1.6, -2.5, -3.5, -4.3, -12.0, -5.8, -2.6, -3.2,
     -4.4, -3.6, -3.1, -4.7, -5.9, -3.4, -1.4, -2.7, -3.8, -3.1, -2.3, -4.2, -6.7, -4.5, -3.0, -3.8, -4.6, -2.9, -1.8, -2.6,
     -3.4, -5.0, -9.3, -4.8, -2.5, -3.3, -4.1, -4.9, -5.3, -3.5, -2.0, -2.9, -3.6, -5.1, -7.7, -4.3, -2.8, -3.6, -4.5, -3.9],
    [1.8, 1.2, 0.7, 1.6, 2.4, 1.9, 1.2, 2.0, 2.9, 1.5, 0.4, 1.1, 1.6, 2.4, 3.3, 1.8, 1.0, 1.5, 2.1, 1.2,
     -0.1, 0.9, 1.5, 2.0, 2.6, 1.6, 0.9, 1.4, 1.9, 2.7, 3.9, 2.1, 1.3, 0.8, 0.5, 1.5, 2.2, 1.8, 1.7, 1.1,
     0.2, 1.6, 2.7, 1.9, 1.4, 1.2, 1.0, 2.1, 3.1, 2.0, 1.8, 1.1, 0.6, 1.7, 2.3, 1.9, 1.5, 2.6, 4.2, 2.0,
     1.1, 1.7, 2.0, 1.3, 0.8, 1.8, 2.5, 2.0, 1.6, 0.9, 0.3, 1.5, 2.8, 2.1, 1.3, 1.6, 1.9, 1.4, 1.2, 1.6],
    [2.1, 1.3, 0.6, 2.0, 3.2, 2.2, 1.4, 2.3, 2.7, 1.1, 0.2, 1.4, 1.9, 2.8, 3.8, 2.0, 1.1, 1.7, 2.4, 3.1,
     4.5, 2.3, 1.6, 2.2, 2.9, 1.7, 0.8, 1.6, 2.2, 2.9, 3.5, 2.1, 1.3, 0.3, -0.4, 1.5, 2.6, 2.2, 1.8, 2.5,
     3.1, 1.9, 0.9, 1.7, 2.3, 3.4, 5.2, 2.6, 1.5, 2.2, 2.8, 1.4, 0.5, 1.3, 2.0, 2.8, 3.6, 2.1, 1.2, 1.8,
     2.5, 3.2, 4.1, 2.3, 1.7, 0.9, 0.3, 1.8, 2.9, 2.4, 1.9, 2.7, 3.3, 1.8, 1.0, 1.7, 2.2, 1.9, 1.6, 2.3],
    [-3.5, -4.2, -4.8, -3.1, -2.1, -3.8, -5.7, -4.4, -3.0, -2.3, -1.5, -3.2, -4.4, -5.5, -6.3, -3.9, -2.6, -3.0, -3.9, -4.6,
     -5.1, -3.5, -1.9, -2.9, -4.0, -3.4, -2.8, -5.0, -7.3, -4.8, -3.4, -2.7, -1.2, -3.6, -5.2, -4.5, -3.7, -3.0, -2.4, -3.8,
     -4.6, -6.1, -8.2, -4.4, -3.1, -2.4, -1.7, -3.3, -5.4, -4.1, -2.9, -3.7, -4.2, -5.0, -6.0, -3.6, -2.3, -2.9, -3.6, -4.3,
     -0.8, -2.7, -4.9, -4.1, -3.2, -4.5, -5.8, -3.4, -2.0, -3.9, -11.8, -6.0, -3.8, -3.0, -2.6, -3.4, -4.7, -4.0, -3.3, -2.8],
]

# ---------------- q (20 components) ----------------
q_grid = [0, 0.01, 0.02, 0.04, 0.06, 0.1, 0.15, 0.2, 0.3, 0.4, 0.5, 0.6, 0.7, 0.8,
          0.85, 0.9, 0.94, 0.96, 0.98, 0.99, 1.0]
q_kde = [
    [13.4, 11.4, 8.3, 3.7, 1.9, 0.92, 0.5, 0.3, 0.15, 0.1, 0.08, 0.06, 0.05, 0.04, 0.03, 0.03, 0.02, 0.02, 0.02, 0.02, 0.02],
    [0.2, 0.24, 0.28, 0.36, 0.44, 0.6, 0.76, 0.88, 0.96, 0.88, 0.72, 0.56, 0.4, 0.28, 0.24, 0.2, 0.18, 0.17, 0.16, 0.16, 0.16],
    [0.02, 0.02, 0.02, 0.02, 0.03, 0.03, 0.04, 0.05, 0.06, 0.08, 0.1, 0.12, 0.16, 0.31, 0.5, 0.86, 1.75, 4.2, 8.5, 11.2, 13.6],
    [0.02, 0.02, 0.02, 0.02, 0.03, 0.03, 0.04, 0.05, 0.06, 0.08, 0.1, 0.13, 0.18, 0.35, 0.6, 1.1, 2.6, 4.6, 8.2, 10.8, 13.0],
    [0.12, 0.12, 0.13, 0.14, 0.15, 0.18, 0.22, 0.27, 0.38, 0.5, 0.62, 0.72, 0.8, 0.78, 0.72, 0.6, 0.45, 0.4, 0.35, 0.33, 0.32],
    [1.6, 1.6, 1.6, 1.6, 1.58, 1.52, 1.36, 1.2, 0.96, 0.76, 0.6, 0.48, 0.4, 0.32, 0.28, 0.24, 0.22, 0.21, 0.2, 0.2, 0.2],
    [13.8, 11.9, 8.9, 4.0, 2.1, 1.0, 0.55, 0.33, 0.17, 0.11, 0.08, 0.06, 0.05, 0.04, 0.03, 0.03, 0.02, 0.02, 0.02, 0.02, 0.02],
    [1.4, 1.42, 1.44, 1.48, 1.5, 1.5, 1.4, 1.24, 0.96, 0.72, 0.56, 0.44, 0.36, 0.3, 0.28, 0.26, 0.25, 0.24, 0.24, 0.24, 0.24],
    [0.2, 0.2, 0.21, 0.22, 0.24, 0.28, 0.33, 0.38, 0.5, 0.64, 0.8, 0.98, 1.2, 1.5, 1.7, 1.86, 1.92, 1.9, 1.8, 1.72, 1.64],
    [14.1, 11.8, 8.6, 3.8, 2.0, 0.96, 0.52, 0.32, 0.16, 0.1, 0.08, 0.06, 0.05, 0.04, 0.03, 0.03, 0.02, 0.02, 0.02, 0.02, 0.02],
    [0.5, 0.5, 0.5, 0.5, 0.5, 0.5, 0.48, 0.46, 0.44, 0.44, 0.44, 0.44, 0.46, 0.48, 0.5, 0.52, 0.52, 0.5, 0.48, 0.46, 0.44],
    [0.32, 0.36, 0.4, 0.48, 0.56, 0.68, 0.76, 0.8, 0.78, 0.7, 0.6, 0.5, 0.4, 0.32, 0.28, 0.24, 0.2, 0.19, 0.18, 0.17, 0.16],
    [0.1, 0.1, 0.1, 0.11, 0.12, 0.14, 0.16, 0.2, 0.28, 0.4, 0.54, 0.7, 0.9, 1.2, 1.4, 1.6, 1.76, 1.8, 1.78, 1.74, 1.7],
    [0.9, 0.9, 0.9, 0.9, 0.88, 0.84, 0.78, 0.72, 0.62, 0.52, 0.44, 0.38, 0.33, 0.29, 0.27, 0.25, 0.24, 0.23, 0.22, 0.22, 0.22],
    [0.1, 0.1, 0.11, 0.13, 0.15, 0.2, 0.28, 0.36, 0.52, 0.66, 0.74, 0.74, 0.68, 0.58, 0.52, 0.46, 0.42, 0.4, 0.38, 0.37, 0.36],
    [1.5, 1.52, 1.54, 1.56, 1.56, 1.52, 1.42, 1.3, 1.06, 0.84, 0.66, 0.52, 0.42, 0.34, 0.3, 0.27, 0.25, 0.24, 0.23, 0.23, 0.22],
    [0.02, 0.02, 0.02, 0.02, 0.03, 0.03, 0.04, 0.05, 0.06, 0.08, 0.1, 0.12, 0.17, 0.33, 0.53, 0.9, 1.85, 4.5, 8.9, 11.7, 14.7],
    [1.2, 1.3, 1.36, 1.44, 1.5, 1.56, 1.5, 1.38, 1.1, 0.84, 0.64, 0.5, 0.4, 0.33, 0.3, 0.28, 0.27, 0.26, 0.26, 0.25, 0.25],
    [0.15, 0.15, 0.16, 0.17, 0.19, 0.23, 0.28, 0.34, 0.46, 0.6, 0.76, 0.94, 1.14, 1.36, 1.5, 1.6, 1.62, 1.6, 1.56, 1.52, 1.5],
    [13.7, 11.5, 8.4, 3.9, 2.05, 0.98, 0.53, 0.32, 0.16, 0.1, 0.08, 0.06, 0.05, 0.04, 0.03, 0.03, 0.02, 0.02, 0.02, 0.02, 0.02],
]
q_chains = [
    [0.03, 0.06, 0.08, 0.02, 0.01, 0.04, 0.12, 0.05, 0.02, 0.03, 0.05, 0.14, 0.21, 0.06, 0.01, 0.02, 0.07, 0.03, 0.03, 0.09,
     0.15, 0.05, 0.02, 0.04, 0.09, 0.03, 0.04, 0.11, 0.01, 0.02, 0.28, 0.09, 0.06, 0.02, 0.02, 0.05, 0.11, 0.04, 0.03, 0.07,
     0.01, 0.03, 0.08, 0.13, 0.18, 0.06, 0.02, 0.01, 0.05, 0.03, 0.01, 0.07, 0.13, 0.05, 0.04, 0.02, 0.36, 0.1, 0.02, 0.04,
     0.07, 0.03, 0.01, 0.05, 0.1, 0.04, 0.03, 0.08, 0.16, 0.05, 0.02, 0.03, 0.06, 0.02, 0.01, 0.04, 0.09, 0.06, 0.04, 0.02],
    [0.32, 0.25, 0.18, 0.31, 0.45, 0.36, 0.27, 0.4, 0.56, 0.33, 0.21, 0.29, 0.38, 0.22, 0.12, 0.3, 0.49, 0.41, 0.3, 0.26,
     0.24, 0.43, 0.62, 0.44, 0.35, 0.23, 0.15, 0.28, 0.41, 0.35, 0.28, 0.4, 0.53, 0.31, 0.19, 0.27, 0.37, 0.21, 0.09, 0.25,
     0.44, 0.38, 0.31, 0.26, 0.23, 0.4, 0.58, 0.42, 0.34, 0.24, 0.17, 0.33, 0.47, 0.36, 0.26, 0.32, 0.39, 0.55, 0.71, 0.45,
     0.29, 0.2, 0.14, 0.3, 0.42, 0.31, 0.25, 0.39, 0.51, 0.33, 0.2, 0.28, 0.36, 0.22, 0.11, 0.3, 0.46, 0.39, 0.33, 0.27],
    [0.98, 0.95, 0.93, 0.97, 0.99, 0.98, 0.96, 0.93, 0.91, 0.96, 0.99, 0.98, 0.97, 0.95, 0.94, 0.97, 0.99, 0.99, 0.98, 0.96,
     0.89, 0.94, 0.97, 0.99, 0.99, 0.97, 0.95, 0.98, 0.98, 0.95, 0.92, 0.96, 0.99, 0.98, 0.96, 0.98, 0.99, 0.97, 0.94, 0.97,
     0.97, 0.99, 0.99, 0.95, 0.9, 0.95, 0.98, 0.99, 0.96, 0.97, 0.99, 0.96, 0.93, 0.97, 0.98, 0.99, 0.99, 0.97, 0.95, 0.98,
     0.97, 0.94, 0.91, 0.96, 0.99, 0.98, 0.96, 0.98, 0.98, 0.96, 0.93, 0.97, 0.99, 0.99, 0.97, 0.95, 0.94, 0.97, 0.99, 0.98],
    [0.96, 0.98, 0.99, 0.95, 0.92, 0.96, 0.98, 0.97, 0.95, 0.98, 0.99, 0.94, 0.87, 0.93, 0.97, 0.99, 0.99, 0.97, 0.94, 0.96,
     0.98, 0.99, 0.99, 0.95, 0.91, 0.94, 0.96, 0.98, 0.99, 0.98, 0.97, 0.95, 0.93, 0.97, 0.99, 0.99, 0.95, 0.97, 0.98, 0.96,
     0.84, 0.92, 0.97, 0.98, 0.99, 0.97, 0.94, 0.96, 0.98, 0.97, 0.96, 0.98, 0.99, 0.95, 0.9, 0.94, 0.97, 0.98, 0.99, 0.97,
     0.95, 0.97, 0.98, 0.96, 0.92, 0.96, 0.99, 0.98, 0.96, 0.97, 0.98, 0.95, 0.93, 0.97, 0.99, 0.98, 0.97, 0.96, 0.95, 0.97],
    [0.58, 0.66, 0.73, 0.6, 0.45, 0.55, 0.66, 0.75, 0.81, 0.63, 0.52, 0.6, 0.69, 0.52, 0.38, 0.5, 0.62, 0.7, 0.77, 0.64,
     0.49, 0.61, 0.71, 0.63, 0.56, 0.72, 0.85, 0.62, 0.43, 0.54, 0.64, 0.7, 0.75, 0.6, 0.51, 0.6, 0.68, 0.5, 0.33, 0.47,
     0.6, 0.7, 0.79, 0.66, 0.54, 0.62, 0.7, 0.58, 0.47, 0.66, 0.83, 0.7, 0.59, 0.5, 0.41, 0.57, 0.72, 0.68, 0.63, 0.56,
     0.5, 0.63, 0.76, 0.66, 0.57, 0.47, 0.36, 0.52, 0.67, 0.74, 0.8, 0.66, 0.53, 0.59, 0.65, 0.55, 0.44, 0.6, 0.74, 0.65],
    [0.12, 0.24, 0.35, 0.2, 0.06, 0.15, 0.24, 0.36, 0.48, 0.3, 0.15, 0.23, 0.31, 0.17, 0.04, 0.13, 0.22, 0.4, 0.58, 0.36,
     0.18, 0.13, 0.09, 0.24, 0.39, 0.33, 0.27, 0.14, 0.02, 0.17, 0.33, 0.24, 0.16, 0.3, 0.45, 0.27, 0.1, 0.18, 0.26, 0.48,
     0.69, 0.41, 0.14, 0.25, 0.36, 0.21, 0.07, 0.14, 0.21, 0.31, 0.42, 0.27, 0.13, 0.22, 0.3, 0.17, 0.05, 0.28, 0.52, 0.35,
     0.19, 0.13, 0.08, 0.21, 0.34, 0.29, 0.23, 0.12, 0.11, 0.28, 0.46, 0.31, 0.17, 0.22, 0.28, 0.15, 0.03, 0.2, 0.38, 0.25],
    [0.05, 0.02, 0.01, 0.06, 0.14, 0.05, 0.03, 0.09, 0.24, 0.08, 0.02, 0.04, 0.08, 0.03, 0.01, 0.07, 0.17, 0.06, 0.04, 0.02,
     0.02, 0.05, 0.11, 0.19, 0.3, 0.08, 0.01, 0.03, 0.06, 0.04, 0.03, 0.1, 0.19, 0.06, 0.02, 0.04, 0.09, 0.22, 0.45, 0.12,
     0.04, 0.02, 0.01, 0.05, 0.12, 0.04, 0.03, 0.06, 0.07, 0.13, 0.22, 0.06, 0.02, 0.03, 0.05, 0.02, 0.01, 0.08, 0.15, 0.05,
     0.04, 0.11, 0.27, 0.07, 0.02, 0.05, 0.08, 0.03, 0.01, 0.06, 0.13, 0.04, 0.03, 0.09, 0.2, 0.08, 0.06, 0.03, 0.02, 0.04],
    [0.19, 0.3, 0.42, 0.27, 0.11, 0.21, 0.3, 0.18, 0.07, 0.22, 0.36, 0.3, 0.23, 0.38, 0.54, 0.33, 0.15, 0.22, 0.28, 0.16,
     0.04, 0.22, 0.4, 0.29, 0.18, 0.26, 0.33, 0.47, 0.61, 0.37, 0.12, 0.19, 0.26, 0.17, 0.09, 0.27, 0.45, 0.33, 0.21, 0.17,
     0.14, 0.26, 0.37, 0.22, 0.06, 0.17, 0.29, 0.39, 0.5, 0.34, 0.17, 0.25, 0.32, 0.21, 0.1, 0.17, 0.24, 0.34, 0.43, 0.28,
     0.13, 0.24, 0.35, 0.53, 0.71, 0.45, 0.2, 0.14, 0.08, 0.2, 0.31, 0.24, 0.16, 0.31, 0.47, 0.36, 0.25, 0.18, 0.11, 0.15],
    [0.74, 0.81, 0.88, 0.75, 0.61, 0.7, 0.79, 0.86, 0.93, 0.74, 0.55, 0.68, 0.82, 0.75, 0.68, 0.8, 0.91, 0.83, 0.76, 0.62,
     0.47, 0.66, 0.85, 0.78, 0.71, 0.83, 0.95, 0.79, 0.63, 0.72, 0.8, 0.85, 0.89, 0.73, 0.58, 0.68, 0.77, 0.85, 0.92, 0.79,
     0.66, 0.75, 0.84, 0.68, 0.52, 0.7, 0.87, 0.8, 0.73, 0.85, 0.96, 0.78, 0.6, 0.71, 0.81, 0.76, 0.7, 0.8, 0.9, 0.77,
     0.64, 0.75, 0.86, 0.65, 0.43, 0.61, 0.78, 0.86, 0.94, 0.81, 0.69, 0.76, 0.83, 0.7, 0.57, 0.73, 0.89, 0.82, 0.75, 0.7],
    [0.02, 0.06, 0.1, 0.05, 0.04, 0.02, 0.01, 0.07, 0.16, 0.08, 0.06, 0.03, 0.02, 0.05, 0.13, 0.06, 0.03, 0.11, 0.22, 0.06,
     0.01, 0.04, 0.08, 0.05, 0.04, 0.07, 0.11, 0.03, 0.02, 0.04, 0.05, 0.02, 0.01, 0.06, 0.14, 0.09, 0.07, 0.04, 0.03, 0.08,
     0.19, 0.07, 0.02, 0.03, 0.06, 0.04, 0.01, 0.05, 0.09, 0.04, 0.03, 0.12, 0.25, 0.09, 0.05, 0.02, 0.01, 0.06, 0.12, 0.05,
     0.04, 0.02, 0.02, 0.09, 0.17, 0.08, 0.06, 0.03, 0.01, 0.04, 0.1, 0.05, 0.03, 0.06, 0.08, 0.03, 0.02, 0.07, 0.14, 0.06],
    [0.47, 0.35, 0.22, 0.45, 0.68, 0.52, 0.35, 0.58, 0.81, 0.48, 0.14, 0.35, 0.56, 0.49, 0.41, 0.57, 0.73, 0.51, 0.29, 0.46,
     0.62, 0.36, 0.09, 0.3, 0.5, 0.68, 0.86, 0.62, 0.38, 0.52, 0.65, 0.42, 0.18, 0.36, 0.53, 0.65, 0.77, 0.54, 0.31, 0.45,
     0.59, 0.52, 0.44, 0.68, 0.91, 0.58, 0.26, 0.48, 0.7, 0.53, 0.36, 0.24, 0.11, 0.37, 0.63, 0.56, 0.48, 0.66, 0.83, 0.52,
     0.2, 0.38, 0.57, 0.49, 0.4, 0.58, 0.75, 0.54, 0.33, 0.47, 0.6, 0.38, 0.16, 0.34, 0.52, 0.7, 0.88, 0.66, 0.43, 0.45],
    [0.22, 0.31, 0.41, 0.26, 0.15, 0.24, 0.33, 0.19, 0.08, 0.18, 0.27, 0.39, 0.5, 0.32, 0.19, 0.28, 0.36, 0.29, 0.24, 0.17,
     0.12, 0.3, 0.44, 0.35, 0.29, 0.22, 0.17, 0.27, 0.38, 0.2, 0.06, 0.19, 0.31, 0.27, 0.25, 0.4, 0.55, 0.35, 0.2, 0.27,
     0.34, 0.22, 0.13, 0.21, 0.28, 0.36, 0.42, 0.27, 0.16, 0.26, 0.37, 0.29, 0.23, 0.15, 0.1, 0.22, 0.32, 0.4, 0.47, 0.33,
     0.21, 0.28, 0.35, 0.24, 0.14, 0.23, 0.3, 0.48, 0.65, 0.37, 0.18, 0.29, 0.39, 0.32, 0.26, 0.19, 0.11, 0.23, 0.33, 0.29],
    [0.69, 0.77, 0.84, 0.7, 0.55, 0.73, 0.9, 0.83, 0.76, 0.7, 0.63, 0.79, 0.94, 0.83, 0.71, 0.77, 0.82, 0.66, 0.49, 0.68,
     0.87, 0.77, 0.67, 0.73, 0.78, 0.87, 0.96, 0.78, 0.6, 0.73, 0.85, 0.79, 0.73, 0.82, 0.91, 0.75, 0.58, 0.69, 0.8, 0.9,
     0.68, 0.81, 0.93, 0.84, 0.75, 0.64, 0.52, 0.7, 0.88, 0.79, 0.7, 0.77, 0.83, 0.73, 0.62, 0.79, 0.95, 0.86, 0.77, 0.71,
     0.66, 0.78, 0.89, 0.81, 0.72, 0.65, 0.57, 0.72, 0.86, 0.83, 0.79, 0.86, 0.92, 0.78, 0.64, 0.73, 0.81, 0.78, 0.74, 0.72],
    [0.36, 0.25, 0.14, 0.3, 0.47, 0.36, 0.25, 0.17, 0.08, 0.24, 0.39, 0.3, 0.2, 0.39, 0.58, 0.45, 0.31, 0.21, 0.11, 0.28,
     0.44, 0.36, 0.27, 0.16, 0.05, 0.2, 0.35, 0.27, 0.19, 0.36, 0.52, 0.41, 0.29, 0.21, 0.13, 0.27, 0.41, 0.32, 0.23, 0.15,
     0.66, 0.41, 0.16, 0.25, 0.33, 0.2, 0.07, 0.26, 0.45, 0.36, 0.28, 0.2, 0.12, 0.25, 0.38, 0.3, 0.21, 0.38, 0.55, 0.43,
     0.3, 0.2, 0.09, 0.26, 0.42, 0.3, 0.18, 0.26, 0.34, 0.29, 0.24, 0.43, 0.62, 0.39, 0.15, 0.26, 0.37, 0.32, 0.26, 0.25],
    [0.51, 0.43, 0.35, 0.5, 0.64, 0.55, 0.47, 0.6, 0.72, 0.5, 0.29, 0.44, 0.58, 0.5, 0.43, 0.61, 0.78, 0.64, 0.52, 0.45,
     0.38, 0.5, 0.61, 0.53, 0.46, 0.58, 0.69, 0.5, 0.32, 0.44, 0.55, 0.68, 0.8, 0.62, 0.48, 0.56, 0.63, 0.52, 0.4, 0.49,
     0.57, 0.42, 0.26, 0.47, 0.66, 0.58, 0.5, 0.62, 0.74, 0.59, 0.44, 0.51, 0.59, 0.46, 0.34, 0.52, 0.7, 0.61, 0.53, 0.47,
     0.42, 0.54, 0.65, 0.57, 0.49, 0.66, 0.82, 0.59, 0.37, 0.49, 0.6, 0.53, 0.45, 0.57, 0.68, 0.5, 0.31, 0.44, 0.56, 0.5],
    [0.28, 0.18, 0.09, 0.25, 0.41, 0.29, 0.17, 0.11, 0.05, 0.19, 0.33, 0.27, 0.22, 0.39, 0.56, 0.35, 0.13, 0.25, 0.37, 0.22,
     0.08, 0.16, 0.25, 0.36, 0.47, 0.3, 0.14, 0.22, 0.31, 0.18, 0.06, 0.13, 0.2, 0.41, 0.62, 0.37, 0.11, 0.23, 0.35, 0.26,
     0.18, 0.11, 0.04, 0.17, 0.29, 0.36, 0.43, 0.29, 0.15, 0.19, 0.24, 0.15, 0.07, 0.23, 0.39, 0.29, 0.19, 0.15, 0.12, 0.31,
     0.51, 0.39, 0.27, 0.15, 0.03, 0.18, 0.34, 0.25, 0.16, 0.3, 0.44, 0.27, 0.1, 0.16, 0.23, 0.4, 0.57, 0.36, 0.14, 0.21],
    [0.99, 0.97, 0.95, 0.97, 0.98, 0.95, 0.92, 0.96, 0.99, 0.98, 0.97, 0.95, 0.94, 0.97, 0.99, 0.97, 0.96, 0.92, 0.88, 0.94,
     0.98, 0.99, 0.99, 0.97, 0.95, 0.96, 0.97, 0.98, 0.99, 0.96, 0.91, 0.95, 0.98, 0.97, 0.96, 0.98, 0.99, 0.97, 0.93, 0.95,
     0.97, 0.98, 0.99, 0.96, 0.94, 0.97, 0.98, 0.99, 0.86, 0.94, 0.99, 0.98, 0.96, 0.97, 0.98, 0.95, 0.93, 0.97, 0.99, 0.98,
     0.97, 0.96, 0.95, 0.98, 0.99, 0.96, 0.9, 0.95, 0.98, 0.97, 0.96, 0.98, 0.99, 0.97, 0.94, 0.96, 0.98, 0.99, 0.97, 0.96],
    [0.14, 0.2, 0.27, 0.16, 0.06, 0.22, 0.38, 0.29, 0.2, 0.16, 0.11, 0.29, 0.47, 0.35, 0.23, 0.16, 0.09, 0.21, 0.33, 0.25,
     0.16, 0.34, 0.52, 0.38, 0.25, 0.15, 0.05, 0.18, 0.3, 0.24, 0.18, 0.3, 0.41, 0.27, 0.12, 0.24, 0.36, 0.29, 0.22, 0.15,
     0.08, 0.26, 0.44, 0.3, 0.15, 0.22, 0.28, 0.45, 0.66, 0.42, 0.19, 0.15, 0.1, 0.22, 0.34, 0.29, 0.24, 0.16, 0.07, 0.23,
     0.39, 0.28, 0.17, 0.23, 0.29, 0.21, 0.13, 0.31, 0.48, 0.34, 0.21, 0.14, 0.06, 0.19, 0.32, 0.29, 0.26, 0.21, 0.15, 0.19],
    [0.83, 0.74, 0.66, 0.79, 0.92, 0.82, 0.72, 0.64, 0.57, 0.72, 0.87, 0.83, 0.78, 0.87, 0.95, 0.79, 0.63, 0.72, 0.81, 0.86,
     0.9, 0.8, 0.7, 0.61, 0.53, 0.69, 0.85, 0.8, 0.76, 0.85, 0.93, 0.77, 0.61, 0.7, 0.79, 0.84, 0.88, 0.78, 0.67, 0.82,
     0.96, 0.85, 0.74, 0.66, 0.59, 0.72, 0.84, 0.88, 0.91, 0.8, 0.69, 0.75, 0.8, 0.64, 0.48, 0.67, 0.86, 0.81, 0.75, 0.85,
     0.94, 0.8, 0.65, 0.74, 0.82, 0.86, 0.89, 0.8, 0.71, 0.63, 0.56, 0.72, 0.87, 0.82, 0.77, 0.85, 0.92, 0.8, 0.68, 0.74],
    [0.09, 0.04, 0.02, 0.03, 0.05, 0.11, 0.18, 0.06, 0.01, 0.04, 0.07, 0.03, 0.03, 0.08, 0.12, 0.05, 0.02, 0.03, 0.06, 0.1,
     0.15, 0.04, 0.01, 0.02, 0.04, 0.09, 0.2, 0.11, 0.08, 0.03, 0.02, 0.06, 0.11, 0.05, 0.03, 0.01, 0.01, 0.04, 0.06, 0.09,
     0.13, 0.06, 0.04, 0.02, 0.02, 0.07, 0.16, 0.08, 0.05, 0.02, 0.01, 0.04, 0.09, 0.14, 0.23, 0.07, 0.03, 0.05, 0.07, 0.03,
     0.01, 0.05, 0.12, 0.06, 0.05, 0.03, 0.02, 0.07, 0.18, 0.09, 0.04, 0.06, 0.08, 0.03, 0.01, 0.05, 0.11, 0.06, 0.03, 0.02],
]

titles = ['beta', 'beta', 's', 's', 'r', 'r', 'q', 'q']

# The page body adds an 8px margin, so the figure is 16px smaller than the
# window and every panel position is given relative to that offset.
FIG_W, FIG_H = 1173, 773
X_DOM = [[0.0017, 0.4774], [0.5234, 0.9991]]
Y_DOM = [[0.7943, 0.9715], [0.5408, 0.7180], [0.2872, 0.4644], [0.0323, 0.2109]]
x_ranges = [[-1.315, 1.32], [0, 999], [1.86, 4.637], [0, 999],
            [-16.48, 16.33], [0, 999], [-0.05, 1.05], [0, 999]]
y_ranges = [[-0.075, 1.26], [-1.30, 1.33], [-0.087, 1.197], [1.88, 4.67],
            [-0.054, 1.048], [-16.6, 16.5], [-0.88, 15.52], [-0.045, 1.048]]

fig = go.Figure()


def refs(k):
    return ('x' if k == 0 else f'x{k + 1}'), ('y' if k == 0 else f'y{k + 1}')


def kde_line(k, xs, ys, color, dash='solid', width=1.5):
    xr, yr = refs(k)
    fig.add_trace(go.Scatter(x=xs, y=ys, mode='lines', xaxis=xr, yaxis=yr,
                             line=dict(color=color, width=width, dash=dash,
                                       shape='spline', smoothing=0.5),
                             hoverinfo='skip'))


def trace_line(k, ys, step, color, dash='solid', opacity=0.35, width=1):
    xr, yr = refs(k)
    draws = [i * step for i in range(len(ys))]
    fig.add_trace(go.Scatter(x=draws, y=ys, mode='lines', xaxis=xr, yaxis=yr,
                             line=dict(color=color, width=width, dash=dash),
                             opacity=opacity, hoverinfo='skip'))


# beta / s: one colour, chains told apart by line style
for i in range(4):
    kde_line(0, beta_grid, beta_kde[i], TAB10[0], DASHES[i])
    trace_line(1, beta_chains[i], 5, TAB10[0], DASHES[i], opacity=0.5, width=1.4)
    kde_line(2, s_grid, s_kde[i], TAB10[0], DASHES[i])
    trace_line(3, s_chains[i], 5, TAB10[0], DASHES[i], opacity=0.5, width=1.4)

# r / q: one colour per component
for c in range(20):
    col = TAB10[c % 10]
    kde_line(4, r_grid, r_kde[c], col, width=2)
    trace_line(5, r_chains[c], 12.5, col, opacity=0.6, width=2.6)
    kde_line(6, q_grid, q_kde[c], col, width=2)
    trace_line(7, q_chains[c], 12.5, col, opacity=0.6, width=2.6)

base_axis = dict(showline=True, linecolor='black', linewidth=1, mirror=True,
                 ticks='outside', ticklen=5, tickwidth=1, tickcolor='black',
                 showgrid=False, zeroline=False, fixedrange=True,
                 tickfont=dict(family=FONT, size=13.5, color='black'))

x_ticks = [dict(tickvals=[-1.0, -0.5, 0.0, 0.5, 1.0], tickformat='.1f'),
           dict(tickvals=[0, 200, 400, 600, 800]),
           dict(tickvals=[2.0, 2.5, 3.0, 3.5, 4.0, 4.5], tickformat='.1f'),
           dict(tickvals=[0, 200, 400, 600, 800]),
           dict(tickvals=[-15, -10, -5, 0, 5, 10, 15]),
           dict(tickvals=[0, 200, 400, 600, 800]),
           dict(tickvals=[0.0, 0.2, 0.4, 0.6, 0.8, 1.0], tickformat='.1f'),
           dict(tickvals=[0, 200, 400, 600, 800])]
y_ticks = {1: dict(tickvals=[-1, 0, 1]),
           3: dict(tickvals=[2, 3, 4]),
           5: dict(tickvals=[-10, 0, 10]),
           7: dict(tickvals=[0.0, 0.5, 1.0], tickformat='.1f')}

layout_axes = {}
annotations = []
for k in range(8):
    row, col = divmod(k, 2)
    xr, yr = refs(k)
    xa = dict(base_axis, domain=X_DOM[col], anchor=yr, range=x_ranges[k], **x_ticks[k])
    if k % 2 == 0:
        ya = dict(base_axis, domain=Y_DOM[row], anchor=xr, range=y_ranges[k],
                  showticklabels=False, ticks='')
    else:
        ya = dict(base_axis, domain=Y_DOM[row], anchor=xr, range=y_ranges[k], **y_ticks[k])
    layout_axes['xaxis' if k == 0 else f'xaxis{k + 1}'] = xa
    layout_axes['yaxis' if k == 0 else f'yaxis{k + 1}'] = ya
    annotations.append(dict(text=titles[k], xref='paper', yref='paper',
                            x=sum(X_DOM[col]) / 2, y=Y_DOM[row][1],
                            xanchor='center', yanchor='bottom', yshift=3,
                            showarrow=False,
                            font=dict(family=FONT, size=14.5, color='black')))

fig.update_layout(width=FIG_W, height=FIG_H, margin=dict(l=0, r=0, t=0, b=0),
                  paper_bgcolor='white', plot_bgcolor='white', showlegend=False,
                  annotations=annotations, **layout_axes)

fig.write_html('out.html')
